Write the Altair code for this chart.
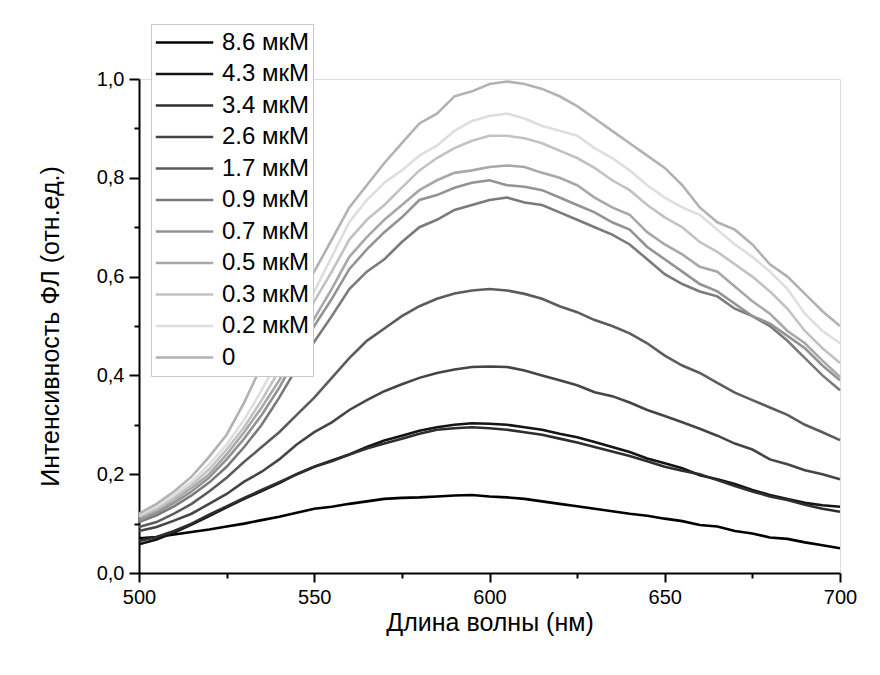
import altair as alt
import pandas as pd

wavelengths = list(range(500, 701, 5))

labels = ["8.6 мкМ", "4.3 мкМ", "3.4 мкМ", "2.6 мкМ", "1.7 мкМ", "0.9 мкМ",
          "0.7 мкМ", "0.5 мкМ", "0.3 мкМ", "0.2 мкМ", "0"]
colors = ["#000000", "#141414", "#2e2e2e", "#454545", "#5c5c5c", "#7a7a7a",
          "#939393", "#a8a8a8", "#c2c2c2", "#dedede", "#b2b2b2"]

s_0 = [0.12, 0.14, 0.165, 0.195, 0.235, 0.28, 0.345, 0.42, 0.49, 0.55, 0.61,
       0.675, 0.74, 0.785, 0.83, 0.87, 0.91, 0.93, 0.965, 0.975, 0.99, 0.995,
       0.99, 0.98, 0.965, 0.945, 0.92, 0.895, 0.87, 0.845, 0.82, 0.785, 0.74,
       0.71, 0.695, 0.665, 0.625, 0.6, 0.565, 0.53, 0.5]
s_02 = [0.117, 0.135, 0.158, 0.185, 0.22, 0.26, 0.31, 0.37, 0.435, 0.505, 0.57,
        0.64, 0.71, 0.755, 0.79, 0.815, 0.845, 0.865, 0.895, 0.915, 0.925, 0.93,
        0.92, 0.905, 0.895, 0.885, 0.86, 0.84, 0.815, 0.785, 0.76, 0.74, 0.725,
        0.695, 0.665, 0.64, 0.61, 0.575, 0.525, 0.49, 0.465]
s_03 = [0.115, 0.13, 0.152, 0.178, 0.21, 0.25, 0.295, 0.35, 0.41, 0.48, 0.55,
        0.61, 0.675, 0.715, 0.745, 0.78, 0.815, 0.84, 0.86, 0.875, 0.885, 0.885,
        0.88, 0.87, 0.855, 0.84, 0.82, 0.795, 0.775, 0.745, 0.72, 0.7, 0.67,
        0.65, 0.625, 0.6, 0.57, 0.535, 0.49, 0.455, 0.425]
s_05 = [0.112, 0.127, 0.148, 0.172, 0.2, 0.24, 0.285, 0.335, 0.39, 0.455, 0.515,
        0.575, 0.64, 0.68, 0.715, 0.745, 0.775, 0.795, 0.81, 0.815, 0.822, 0.825,
        0.822, 0.81, 0.8, 0.785, 0.76, 0.74, 0.725, 0.69, 0.665, 0.645, 0.62,
        0.61, 0.58, 0.55, 0.525, 0.49, 0.465, 0.43, 0.397]
s_07 = [0.107, 0.122, 0.142, 0.165, 0.193, 0.23, 0.272, 0.32, 0.375, 0.44, 0.5,
        0.555, 0.615, 0.655, 0.69, 0.72, 0.755, 0.765, 0.78, 0.79, 0.795, 0.785,
        0.782, 0.775, 0.76, 0.745, 0.73, 0.71, 0.695, 0.66, 0.635, 0.61, 0.585,
        0.57, 0.545, 0.52, 0.505, 0.48, 0.455, 0.42, 0.39]
s_09 = [0.103, 0.117, 0.135, 0.157, 0.183, 0.215, 0.255, 0.3, 0.355, 0.415, 0.468,
        0.52, 0.575, 0.61, 0.635, 0.67, 0.7, 0.715, 0.735, 0.745, 0.755, 0.76,
        0.75, 0.745, 0.73, 0.715, 0.7, 0.685, 0.665, 0.635, 0.605, 0.585, 0.57,
        0.56, 0.535, 0.52, 0.5, 0.47, 0.435, 0.4, 0.37]
s_17 = [0.093, 0.103, 0.12, 0.14, 0.165, 0.193, 0.225, 0.255, 0.285, 0.32, 0.355,
        0.395, 0.435, 0.47, 0.495, 0.52, 0.54, 0.555, 0.566, 0.572, 0.575, 0.572,
        0.565, 0.555, 0.54, 0.528, 0.512, 0.5, 0.485, 0.465, 0.44, 0.42, 0.405,
        0.385, 0.365, 0.35, 0.335, 0.32, 0.3, 0.285, 0.269]
s_26 = [0.085, 0.093, 0.106, 0.12, 0.14, 0.16, 0.185, 0.205, 0.23, 0.26, 0.285,
        0.305, 0.33, 0.35, 0.368, 0.382, 0.395, 0.405, 0.412, 0.417, 0.418, 0.417,
        0.41, 0.4, 0.39, 0.38, 0.366, 0.358, 0.345, 0.33, 0.318, 0.305, 0.292,
        0.278, 0.262, 0.25, 0.23, 0.22, 0.208, 0.2, 0.19]
s_34 = [0.065, 0.073, 0.085, 0.1, 0.118, 0.135, 0.152, 0.168, 0.184, 0.2, 0.215,
        0.226, 0.24, 0.252, 0.262, 0.272, 0.282, 0.29, 0.293, 0.295, 0.293, 0.29,
        0.285, 0.28, 0.272, 0.264, 0.255, 0.246, 0.237, 0.226, 0.215, 0.207, 0.2,
        0.188, 0.176, 0.165, 0.155, 0.148, 0.138, 0.13, 0.124]
s_43 = [0.058, 0.068, 0.082, 0.098, 0.115, 0.133, 0.15, 0.166, 0.182, 0.2, 0.215,
        0.228, 0.24, 0.255, 0.268, 0.278, 0.288, 0.295, 0.3, 0.303, 0.302, 0.3,
        0.295, 0.29, 0.282, 0.275, 0.265, 0.255, 0.245, 0.232, 0.222, 0.212, 0.198,
        0.19, 0.18, 0.168, 0.158, 0.15, 0.142, 0.137, 0.134]
s_86 = [0.07, 0.073, 0.078, 0.083, 0.088, 0.094, 0.1, 0.107, 0.114, 0.122, 0.13,
        0.134, 0.14, 0.145, 0.15, 0.152, 0.153, 0.155, 0.157, 0.158, 0.155, 0.153,
        0.15, 0.145, 0.14, 0.135, 0.13, 0.125, 0.12, 0.116, 0.11, 0.105, 0.097,
        0.094, 0.085, 0.08, 0.072, 0.069, 0.062, 0.056, 0.05]

series = [s_86, s_43, s_34, s_26, s_17, s_09, s_07, s_05, s_03, s_02, s_0]

rows = []
for lab, vals in zip(labels, series):
    for w, v in zip(wavelengths, vals):
        rows.append({"wl": w, "val": v, "conc": lab})
df = pd.DataFrame(rows)

FONT = "Liberation Sans"

x_ticks = list(range(500, 701, 25))
y_ticks = [i / 10 for i in range(0, 11)]

chart = alt.Chart(df).mark_line(strokeWidth=2.6).encode(
    x=alt.X("wl:Q",
            scale=alt.Scale(domain=[500, 700], nice=False, zero=False),
            axis=alt.Axis(
                title="Длина волны (нм)",
                values=x_ticks,
                labelExpr="datum.value % 50 === 0 ? datum.label : ''",
                tickSize={"condition": {"test": "datum.value % 50 === 0", "value": 9}, "value": 5},
                tickColor="black", tickWidth=2,
                domainColor="black", domainWidth=2,
                grid=False,
                labelFont=FONT, labelFontSize=20, labelColor="black", labelPadding=5,
                labelFlush=False,
                titleFont=FONT, titleFontSize=25, titleFontWeight="normal",
                titleColor="black", titlePadding=3,
            )),
    y=alt.Y("val:Q",
            scale=alt.Scale(domain=[0, 1.0], nice=False),
            axis=alt.Axis(
                title="Интенсивность ФЛ (отн.ед.)",
                values=y_ticks,
                labelExpr="round(datum.value*10) % 2 === 0 ? replace(format(datum.value, '.1f'), '.', ',') : ''",
                tickSize={"condition": {"test": "round(datum.value*10) % 2 === 0", "value": 10}, "value": 5},
                tickColor="black", tickWidth=2,
                domainColor="black", domainWidth=2,
                grid=False,
                labelFont=FONT, labelFontSize=20, labelColor="black", labelPadding=5,
                labelFlush=False,
                titleFont=FONT, titleFontSize=25, titleFontWeight="normal",
                titleColor="black", titlePadding=33,
            )),
    color=alt.Color("conc:N",
                    scale=alt.Scale(domain=labels, range=colors),
                    sort=labels,
                    legend=alt.Legend(
                        title=None, orient="none", legendX=12, legendY=-55,
                        direction="vertical",
                        symbolType="stroke", symbolSize=3300, symbolStrokeWidth=2.6,
                        clipHeight=31, rowPadding=0.5,
                        labelFont=FONT, labelFontSize=24, labelColor="black",
                        labelOffset=7,
                        fillColor="white", strokeColor="#c8c8c8", padding=3,
                    )),
    order=alt.Order("conc:N"),
).properties(
    width=701, height=494,
    padding={"left": 131, "top": 71, "right": 30, "bottom": 94},
    autosize="none",
).configure_view(stroke=None).configure(background="white")

chart.save("out.html", embed_options={"renderer": "svg", "actions": False})
